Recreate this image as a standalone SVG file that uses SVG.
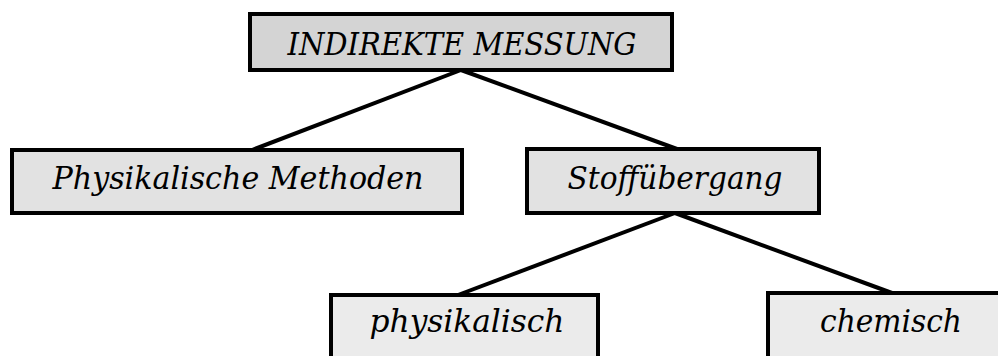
<svg xmlns="http://www.w3.org/2000/svg" width="998" height="356" viewBox="0 0 998 356">
  <style>
    .box { stroke: #000; stroke-width: 4; }
    .l0 { fill: #d4d4d4; }
    .l1 { fill: #e2e2e2; }
    .l2 { fill: #ebebeb; }
    .lbl { font-family: "DejaVu Serif Condensed", "DejaVu Serif", "Liberation Serif", serif; font-style: italic; font-size: 32px; fill: #000; text-anchor: middle; }
    .edge { stroke: #000; stroke-width: 4; fill: none; }
  </style>

  <!-- tree connectors -->
  <g id="connectors">
    <line class="edge" x1="461" y1="70" x2="252" y2="150"/>
    <line class="edge" x1="461" y1="70" x2="677" y2="149"/>
    <line class="edge" x1="675" y1="213" x2="458" y2="295"/>
    <line class="edge" x1="675" y1="213" x2="892" y2="293"/>
  </g>

  <g id="indirekte-messung">
    <rect class="box l0" x="250" y="14" width="422" height="56"/>
    <text class="lbl" x="462" y="55" textLength="349" lengthAdjust="spacingAndGlyphs">INDIREKTE MESSUNG</text>
  </g>

  <g id="physikalische-methoden">
    <rect class="box l1" x="12" y="150" width="450" height="63"/>
    <text class="lbl" x="238" y="189" textLength="371" lengthAdjust="spacingAndGlyphs">Physikalische Methoden</text>
  </g>

  <g id="stoffuebergang">
    <rect class="box l1" x="527" y="149" width="292" height="64"/>
    <text class="lbl" x="675" y="189" textLength="215" lengthAdjust="spacingAndGlyphs">Stoffübergang</text>
  </g>

  <g id="physikalisch">
    <rect class="box l2" x="331" y="295" width="267" height="80"/>
    <text class="lbl" x="467" y="332" textLength="195" lengthAdjust="spacingAndGlyphs">physikalisch</text>
  </g>

  <g id="chemisch">
    <rect class="box l2" x="768" y="293" width="250" height="80"/>
    <text class="lbl" x="891" y="332" textLength="142" lengthAdjust="spacingAndGlyphs">chemisch</text>
  </g>
</svg>
